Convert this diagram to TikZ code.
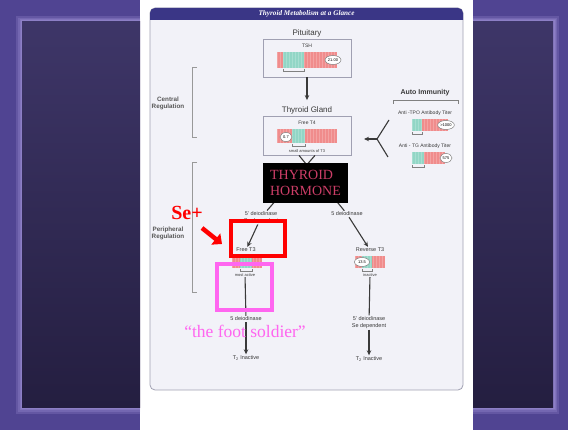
\documentclass[tikz,border=0pt]{standalone}
\usepackage{fontspec}
\setmainfont{Liberation Sans}
\newfontfamily\slidefont{Liberation Serif}
\usetikzlibrary{arrows.meta,shapes.geometric}

\definecolor{slidepurple}{RGB}{80,68,146}
\definecolor{slideglow}{RGB}{200,186,248}
\definecolor{slidetop}{RGB}{62,54,104}
\definecolor{slidebottom}{RGB}{36,30,64}
\definecolor{panelfill}{RGB}{242,242,248}
\definecolor{panelline}{RGB}{160,160,178}
\definecolor{headblue}{RGB}{58,54,134}
\definecolor{barpink}{RGB}{240,140,140}
\definecolor{barteal}{RGB}{146,214,198}
\definecolor{inkgray}{RGB}{58,58,58}
\definecolor{hormonered}{RGB}{205,62,104}
\definecolor{footpink}{RGB}{255,102,240}

\begin{document}
\begin{tikzpicture}[x=1pt, y=-1pt,
	arr/.style={draw=inkgray, line width=1.1pt, -{Stealth[length=5pt,width=4.5pt]}},
	plain/.style={draw=inkgray, line width=1.1pt},
	lbl/.style={inner sep=1pt, align=center, text=inkgray, font=\fontsize{5.5}{6.5}\selectfont},
	tiny/.style={inner sep=0.5pt, text=inkgray, font=\fontsize{4}{4.5}\selectfont},
	big/.style={inner sep=1pt, text=inkgray, font=\fontsize{8}{9}\selectfont},
	reg/.style={inner sep=1pt, align=center, text=inkgray!85, font=\bfseries\fontsize{6.3}{7}\selectfont},
	labbox/.style={draw=panelline, fill=panelfill, line width=0.8pt, minimum width=88pt},
	value/.style={ellipse, draw=gray, fill=white, line width=0.5pt, inner sep=0.3pt, minimum width=16pt, minimum height=9pt, font=\fontsize{4}{4.5}\selectfont},
	bracket/.style={draw=gray!80, line width=1pt},
	hilite/.style={draw=#1, line width=3.8pt, inner sep=0pt},
	]

	\useasboundingbox (0,0) rectangle (568,430);

	% bar with teal part, stripes and a bracket below the teal part
	\def\levelbar(#1,#2,#3,#4,#5,#6){%
		\fill[barpink] (#1,#3) rectangle (#2,#4);
		\fill[barteal] (#5,#3) rectangle (#6,#4);
		\begin{scope}
			\clip (#1,#3) rectangle (#2,#4);
			\foreach \s in {0,3,...,72}
				\draw[white, opacity=0.2, line width=0.5pt] ({#1+\s},#3) -- ({#1+\s},#4);
		\end{scope}
		\draw[gray, line width=0.6pt] (#5,#4+1) -- (#5,#4+3) -- (#6,#4+3) -- (#6,#4+1);
	}

	% Slide background
	\fill[white] (0,0) rectangle (568,430);
	\foreach \xa/\xb/\ia/\ib in {0/140/22/140, 473/568/473/553} {
		\begin{scope}
			\clip (\xa,0) rectangle (\xb,430);
			\fill[slidepurple] (\xa,0) rectangle (\xb,430);
			\foreach \w in {12,8,5,3}
				\draw[slideglow, opacity=0.17, line width=\w*1pt] (\ia,22) rectangle (\ib,408);
			\shade[top color=slidetop, bottom color=slidebottom] (\ia,22) rectangle (\ib,408);
		\end{scope}
	}

	% Panel and header
	\draw[panelline, fill=panelfill, line width=0.8pt, rounded corners=5pt] (150,8) rectangle (463,390);
	\fill[headblue] (150,20) [rounded corners=5pt] -- (150,8) -- (463,8) [sharp corners] -- (463,20) -- cycle;
	\node[text=white, font=\slidefont\bfseries\itshape\fontsize{7.2}{8}\selectfont] (header) at (306.5,14) {Thyroid Metabolism at a Glance};

	% Pituitary
	\node[big] (pit) at (307,33) {Pituitary};
	\node[labbox, minimum height=38pt] (tshbox) at (307,58) {};
	\node[lbl, font=\fontsize{5}{6}\selectfont] (tshlbl) at (307,46) {TSH};
	\levelbar(277,337,52,68,283,304)
	\node[value] (tshval) at (333,60) {21.00};

	% Thyroid gland
	\node[big] (thyglbl) at (307,110) {Thyroid Gland};
	\node[labbox, minimum height=39pt] (ft4box) at (307,135.5) {};
	\node[lbl, font=\fontsize{5}{6}\selectfont] (ft4lbl) at (307,123) {Free T4};
	\levelbar(277,337,129,143,292,305)
	\node[value, minimum width=12pt] (ft4val) at (286,137) {0.7};
	\node[tiny] (smallt3) at (307,151) {small amounts of T3};

	\draw[arr, shorten >=5pt] (tshbox) -- (thyglbl);

	% Auto immunity
	\node[inner sep=1pt, text=inkgray, font=\bfseries\fontsize{7}{8}\selectfont] (autoimm) at (425,93) {Auto Immunity};
	\draw[gray, line width=0.8pt] (393,104) -- (393,100) -- (458,100) -- (458,104);
	\node[lbl, font=\fontsize{5}{6}\selectfont] (tpolbl) at (425,113) {Anti -TPO Antibody Titer};
	\levelbar(412,448,119,131,412,422)
	\node[value] (tpoval) at (446,125) {>1000};
	\node[lbl, font=\fontsize{5}{6}\selectfont] (tglbl) at (425,146) {Anti - TG Antibody Titer};
	\levelbar(412,445,152,164,412,424)
	\node[value, minimum width=12pt] (tgval) at (446,158) {575};

	\coordinate (yTop) at (389,120);
	\coordinate (yApex) at (377,139);
	\coordinate (yBot) at (388,157);
	\coordinate (yTip) at (364,139);
	\draw[plain] (yTop) -- (yApex) -- (yBot);
	\draw[arr] (yApex) -- (yTip);

	% Regulation brackets
	\draw[bracket] (197,68) -- (192,68) -- (192,138) -- (197,138);
	\node[reg] (central) at (168,103) {Central\\Regulation};
	\draw[bracket] (197,163) -- (192,163) -- (192,293) -- (197,293);
	\node[reg] (periph) at (168,233) {Peripheral\\Regulation};

	% Peripheral conversion
	\node[lbl] (deioL) at (261,217.5) {5' deiodinase\\Se dependent};
	\node[lbl] (deioR) at (347,214) {5 deiodinase};
	\draw[plain] ([xshift=8pt]ft4box.south) -- (deioL);
	\draw[plain] ([xshift=-8pt]ft4box.south) -- (deioR);

	\node[lbl] (ft3lbl) at (246,250) {Free T3};
	\levelbar(232,262,256,268,240,252)
	\node[tiny] (mostact) at (245,275) {most active};
	\draw[arr] (deioL) -- (ft3lbl);

	\node[lbl] (rt3lbl) at (370,250) {Reverse T3};
	\levelbar(355,385,256,268,362,372)
	\node[value, minimum width=15pt] (rt3val) at (362,262) {13.5};
	\node[tiny] (inact) at (370,275) {inactive};
	\draw[arr] (deioR) -- (rt3lbl);

	% Breakdown to T2
	\node[lbl] (deioL2) at (246,319) {5 deiodinase};
	\node[lbl] (t2L) at (246,358) {T\textsubscript{2} Inactive};
	\draw[plain] (mostact) -- (deioL2);
	\draw[arr] (deioL2) -- (t2L);

	\node[lbl] (deioR2) at (369,322.5) {5' deiodinase\\Se dependent};
	\node[lbl] (t2R) at (369,359) {T\textsubscript{2} Inactive};
	\draw[plain] (inact) -- (deioR2);
	\draw[arr] (deioR2) -- (t2R);

	% Slide overlays
	\node[fill=black, minimum width=85pt, minimum height=40pt, align=left, text=hormonered,
		font=\slidefont\fontsize{14}{16}\selectfont] (hormone) at (305.5,183) {THYROID\\HORMONE};

	\node[inner sep=0pt, text=red, font=\slidefont\bfseries\fontsize{20}{20}\selectfont] (seplus) at (187,213) {Se+};
	\coordinate (seTail) at (202,228);
	\coordinate (seHead) at (222,244);
	\draw[red, line width=4.5pt, -{Triangle[length=8pt,width=14pt]}] (seTail) -- (seHead);

	\node[hilite=red, minimum width=54pt, minimum height=35pt] (redbox) at (258,238.5) {};
	\node[hilite=footpink, minimum width=55pt, minimum height=46pt] (footbox) at (244.5,287) {};
	\node[inner sep=0pt, text=footpink, font=\slidefont\fontsize{17.5}{18}\selectfont] (footlbl) at (245,331) {“the foot soldier”};

\end{tikzpicture}
\end{document}
